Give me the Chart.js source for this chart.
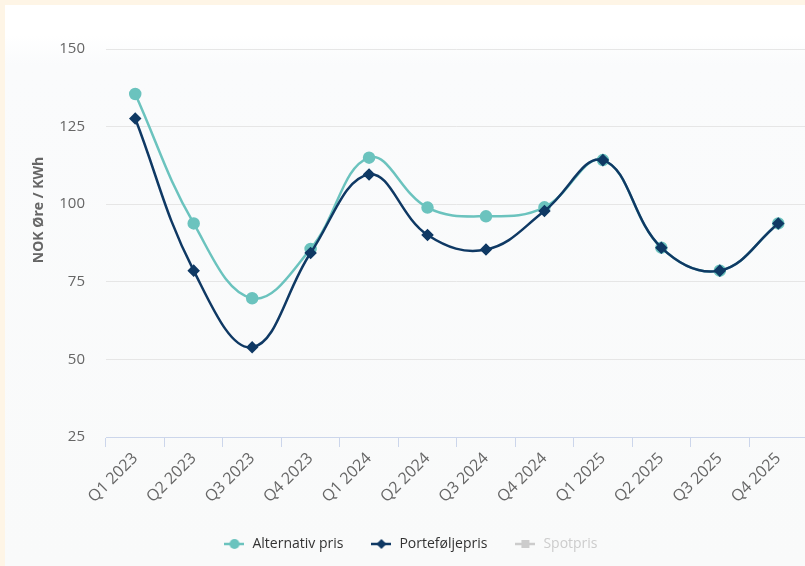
<!DOCTYPE html>
<html>
<head>
<meta charset="utf-8">
<script src="https://cdn.jsdelivr.net/npm/chart.js@4.4.1/dist/chart.umd.min.js"></script>
<style>
  html, body { margin: 0; padding: 0; background: #fef5e6; overflow: hidden; }
  #panel {
    position: absolute; left: 5px; top: 5px; width: 800px; height: 561px; overflow: hidden;
    background: linear-gradient(#ffffff 0px, #ffffff 30px, #fafbfc 60px, #f9fafa 561px);
  }
  #prisChart { display: block; }
</style>
</head>
<body>
<div id="panel"><canvas id="prisChart" width="811" height="561"></canvas></div>
<script>
// Kvartaler og priser (øre/kWh)
const kvartaler = ['Q1 2023', 'Q2 2023', 'Q3 2023', 'Q4 2023', 'Q1 2024', 'Q2 2024',
                   'Q3 2024', 'Q4 2024', 'Q1 2025', 'Q2 2025', 'Q3 2025', 'Q4 2025'];
const alternativPris = [135.5, 93.8, 69.7, 85.6, 115.0, 98.9, 96.1, 99.0, 114.2, 86.0, 78.6, 93.8];
const porteføljePris = [127.6, 78.6, 53.9, 84.3, 109.6, 90.1, 85.4, 97.8, 114.2, 86.0, 78.6, 93.8];
const spotPris = [];
const yTicks = [25, 50, 75, 100, 125, 150];

const TEAL = '#6bc3be';
const NAVY = '#0f3964';
const SPOT = '#cccccc';

// små ikoner til tegnforklaringen: linje med markør
function legendIcon(color, shape) {
  const c = document.createElement('canvas');
  c.width = 20; c.height = 12;
  const g = c.getContext('2d');
  g.strokeStyle = color;
  g.fillStyle = color;
  g.lineWidth = 2.5;
  g.beginPath(); g.moveTo(0, 6); g.lineTo(20, 6); g.stroke();
  g.beginPath();
  if (shape === 'circle') {
    g.arc(10, 6, 5, 0, Math.PI * 2);
  } else if (shape === 'diamond') {
    g.moveTo(10, 1); g.lineTo(15, 6); g.lineTo(10, 11); g.lineTo(5, 6); g.closePath();
  } else {
    g.rect(6, 2, 8, 8);
  }
  g.fill();
  return c;
}

const icons = [legendIcon(TEAL, 'circle'), legendIcon(NAVY, 'diamond'), legendIcon(SPOT, 'square')];

// aksetittel på venstre side
const yTitle = {
  id: 'yTitle',
  afterDraw(chart) {
    const ctx = chart.ctx;
    ctx.save();
    ctx.translate(34, 205);
    ctx.rotate(-Math.PI / 2);
    ctx.font = 'bold 14px "Open Sans", sans-serif';
    ctx.fillStyle = '#666666';
    ctx.textAlign = 'center';
    ctx.textBaseline = 'middle';
    ctx.fillText('NOK Øre / KWh', 0, 0);
    ctx.restore();
  }
};

new Chart(document.getElementById('prisChart'), {
  type: 'line',
  data: {
    labels: kvartaler,
    datasets: [
      {
        label: 'Alternativ pris', data: alternativPris, order: 2,
        borderColor: TEAL, backgroundColor: TEAL, borderWidth: 2.5,
        pointStyle: 'circle', pointRadius: 5, pointHoverRadius: 6, tension: 0.4
      },
      {
        label: 'Porteføljepris', data: porteføljePris, order: 1,
        borderColor: NAVY, backgroundColor: NAVY, borderWidth: 2.5,
        pointStyle: 'rectRot', pointRadius: 4.5, pointHoverRadius: 5.5, tension: 0.4
      },
      {
        label: 'Spotpris', data: spotPris, order: 3, hidden: true,
        borderColor: SPOT, backgroundColor: SPOT, pointStyle: 'rect'
      }
    ]
  },
  options: {
    responsive: false,
    animation: false,
    layout: { padding: { top: 44, left: 0, right: 0, bottom: 5 } },
    scales: {
      x: {
        offset: true,
        grid: { drawOnChartArea: false, drawTicks: true, tickLength: 10, color: '#ccd6eb', offset: true },
        border: { color: '#ccd6eb', width: 1 },
        ticks: {
          color: '#666666', font: { family: 'Open Sans', size: 16 },
          maxRotation: 45, minRotation: 45, padding: 2, autoSkip: false
        },
        afterFit(scale) { scale.height = 73; }
      },
      y: {
        min: 25, max: 150,
        afterBuildTicks(scale) { scale.ticks = yTicks.map(v => ({ value: v })); },
        grid: { color: '#e6e6e6', drawTicks: false },
        border: { display: false },
        ticks: { color: '#666666', font: { family: 'Open Sans', size: 15 }, padding: 21 },
        afterFit(scale) { scale.width = 101; }
      }
    },
    plugins: {
      tooltip: { enabled: false },
      legend: {
        position: 'bottom',
        labels: {
          usePointStyle: true,
          pointStyleWidth: 22,
          padding: 27,
          font: { family: 'Open Sans', size: 14 },
          color: '#333333',
          generateLabels(chart) {
            return chart.data.datasets.map((ds, i) => ({
              text: ds.label,
              datasetIndex: i,
              pointStyle: icons[i],
              hidden: false,
              fontColor: chart.isDatasetVisible(i) ? '#333333' : SPOT,
              lineWidth: 0,
              strokeStyle: 'transparent',
              fillStyle: ds.borderColor
            }));
          }
        }
      }
    }
  },
  plugins: [yTitle]
});
</script>
</body>
</html>
